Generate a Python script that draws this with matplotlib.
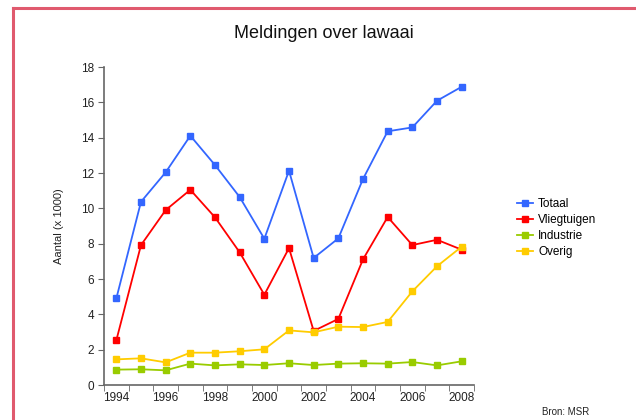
import matplotlib.pyplot as plt
from matplotlib.lines import Line2D
import numpy as np

plt.rcParams['font.family'] = ['Liberation Sans', 'DejaVu Sans']

# data (x 1000 meldingen)
years = [1994, 1995, 1996, 1997, 1998, 1999, 2000, 2001, 2002, 2003, 2004, 2005, 2006, 2007, 2008]
totaal = [4.9, 10.37, 12.04, 14.11, 12.45, 10.64, 8.28, 12.13, 7.19, 8.30, 11.66, 14.36, 14.58, 16.09, 16.88]
vliegtuigen = [2.53, 7.92, 9.90, 11.05, 9.49, 7.51, 5.11, 7.75, 3.06, 3.74, 7.11, 9.51, 7.92, 8.22, 7.66]
industrie = [0.87, 0.89, 0.83, 1.21, 1.11, 1.17, 1.13, 1.23, 1.13, 1.21, 1.23, 1.21, 1.30, 1.11, 1.34]
overig = [1.45, 1.51, 1.28, 1.83, 1.83, 1.91, 2.02, 3.09, 2.98, 3.30, 3.28, 3.57, 5.30, 6.72, 7.83]

series = [("Totaal", totaal, "#3366ff"),
          ("Vliegtuigen", vliegtuigen, "#ff0000"),
          ("Industrie", industrie, "#99cc00"),
          ("Overig", overig, "#ffcc00")]

fig = plt.figure(figsize=(6.36, 4.2), dpi=100)
ax = fig.add_axes([104/636, 1 - 385/420, 370/636, 318/420])

x = np.arange(len(years))
for name, vals, col in series:
    ax.plot(x, vals, color=col, lw=1.3, marker="s", markersize=4.5,
            markeredgecolor=col, label=name)

ax.set_xlim(-0.5, len(years) - 0.5)
ax.set_ylim(0, 18)
ax.set_yticks(range(0, 19, 2))
ax.set_xticks(x[::2])
ax.set_xticklabels([str(y) for y in years[::2]])
ax.set_xticks(np.arange(-0.5, len(years), 1), minor=True)
ax.tick_params(axis="x", which="major", length=0, pad=5)
ax.tick_params(axis="x", which="minor", length=4, color="#666666", direction="out")
ax.tick_params(axis="y", length=4, color="#666666", direction="out", pad=3)
ax.tick_params(labelsize=8.5, labelcolor="#222222")

for s in ["top", "right"]:
    ax.spines[s].set_visible(False)
for s in ["left", "bottom"]:
    ax.spines[s].set_color("#666666")
    ax.spines[s].set_linewidth(1.2)

ax.set_ylabel("Aantal (x 1000)", fontsize=8, color="#222222", labelpad=12)

fig.text(324/636, 1 - 33/420, "Meldingen over lawaai", ha="center", va="center",
         fontsize=13, color="#111111")

fig.legend(loc="upper left", bbox_to_anchor=(517/636, 1 - 198/420), frameon=False,
           fontsize=8.5, handlelength=1.36, handletextpad=0.42, labelspacing=0.33,
           borderaxespad=0, borderpad=0)

fig.text(566/636, 1 - 412/420, "Bron: MSR", ha="center", va="center",
         fontsize=7, color="#222222")

# pink frame on left and top
fig.add_artist(Line2D([13/636, 13/636], [0, 1 - 8/420], color="#e05a6e", lw=2.2))
fig.add_artist(Line2D([13/636, 1], [1 - 8/420, 1 - 8/420], color="#e05a6e", lw=2.2))

fig.savefig("out.png", dpi=100)
